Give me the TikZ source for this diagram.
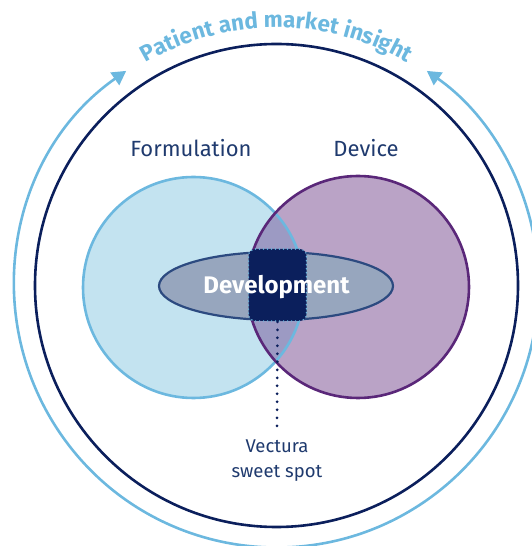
\documentclass[tikz,border=0pt]{standalone}
\usepackage{fontspec}
\setmainfont{Fira Sans}
\usetikzlibrary{arrows.meta,decorations.text}
\definecolor{RingInk}{HTML}{0B1F5C}
\definecolor{LabelInk}{HTML}{1F3A6E}
\definecolor{InsightBlue}{HTML}{6CB8DF}
\definecolor{FormFill}{HTML}{C3E3F0}
\definecolor{DevFill}{HTML}{BAA3C6}
\definecolor{DevEdge}{HTML}{5A2779}
\definecolor{LensFill}{HTML}{9C9AC3}
\definecolor{PhaseFill}{HTML}{97A6BE}
\definecolor{PhaseEdge}{HTML}{2C4A80}
\tikzset{
  every node/.style={text=LabelInk},
  ring/.style={draw=RingInk, line width=2.6pt},
  insight/.style={draw=InsightBlue, line width=2.6pt,
    {Triangle[length=14pt,width=15pt]}-{Triangle[length=14pt,width=15pt]}},
  formring/.style={draw=InsightBlue, line width=2.6pt},
  devring/.style={draw=DevEdge, line width=2.6pt},
  phase/.style={draw=PhaseEdge, fill=PhaseFill, line width=2.2pt},
  setlabel/.style={anchor=base, font=\fontsize{22}{24}\selectfont},
  spot/.style={fill=RingInk, draw=InsightBlue, line width=1.6pt,
    dash pattern=on 0pt off 4pt, line cap=round, rounded corners=7pt,
    minimum width=58pt, minimum height=72pt, inner sep=0pt},
  spotlink/.style={draw=RingInk, line width=3pt, line cap=round,
    dash pattern=on 0pt off 8pt},
}

\begin{document}
\begin{tikzpicture}[x=1pt,y=1pt]
  \useasboundingbox (0,0) rectangle (532,546);
  \coordinate (mid) at (276.5,260.5);
  \coordinate (formc) at (193.5,258.5);
  \coordinate (devc) at (358,259);
  % Market ring with the insight arrows
  \draw[ring] (mid) circle[radius=241.5];
  \begin{scope}[shift={(mid)}]
    \draw[insight] (125:262) arc[start angle=125, end angle=415, radius=262];
    \path[decorate, decoration={text along path, text align=center,
        text color=InsightBlue,
        text={|\fontsize{22.5}{22.5}\selectfont\bfseries|Patient and market insight}}]
      (126:258) arc[start angle=126, end angle=54, radius=258];
  \end{scope}
  % Formulation and device sets
  \fill[FormFill] (formc) circle[radius=110.5];
  \fill[DevFill] (devc) circle[radius=111];
  \begin{scope}
    \clip (formc) circle[radius=110.5];
    \fill[LensFill] (devc) circle[radius=111];
  \end{scope}
  \draw[formring] (formc) circle[radius=110.5];
  \draw[devring] (devc) circle[radius=111];
  \node[setlabel] (formulation) at (191,389) {Formulation};
  \node[setlabel] (device) at (366,389) {Device};
  % Development band and sweet spot
  \draw[phase] (276,260) ellipse[x radius=117, y radius=34];
  \node[spot] (sweetspot) at (277.5,261) {};
  \node[anchor=base, text=white, font=\fontsize{24}{26}\selectfont\bfseries]
    (development) at (276.5,252) {Development};
  \node[anchor=north, inner sep=0pt, align=center, font=\fontsize{18.5}{25}\selectfont]
    (vectura) at (277,106) {Vectura\\sweet spot};
  \draw[spotlink] (sweetspot.south) -- ([yshift=14pt]vectura.north);
\end{tikzpicture}
\end{document}
